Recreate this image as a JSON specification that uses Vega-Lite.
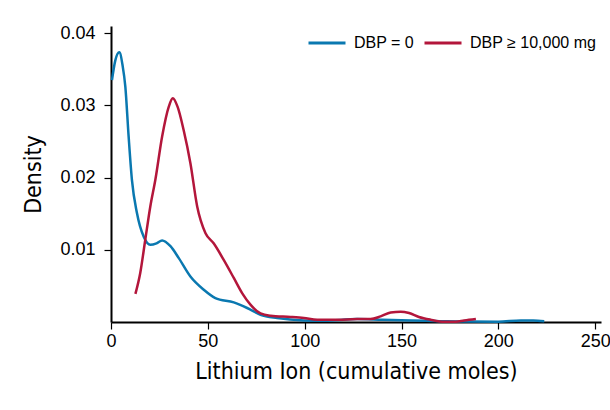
{
  "$schema": "https://vega.github.io/schema/vega-lite/v6.json",
  "width": 490,
  "height": 296,
  "autosize": "none",
  "padding": {"left": 111, "top": 26, "right": 9, "bottom": 88},
  "background": "white",
  "config": {
    "view": {"stroke": null},
    "font": "Liberation Sans"
  },
  "data": {
    "values": [
      {"x": 0.5, "y": 0.0335, "g": "DBP = 0"},
      {"x": 2.2, "y": 0.0362, "g": "DBP = 0"},
      {"x": 4.3, "y": 0.03735, "g": "DBP = 0"},
      {"x": 6.0, "y": 0.0355, "g": "DBP = 0"},
      {"x": 7.4, "y": 0.0326, "g": "DBP = 0"},
      {"x": 9.1, "y": 0.0257, "g": "DBP = 0"},
      {"x": 10.8, "y": 0.0197, "g": "DBP = 0"},
      {"x": 13.4, "y": 0.0151, "g": "DBP = 0"},
      {"x": 16.9, "y": 0.0118, "g": "DBP = 0"},
      {"x": 20.3, "y": 0.0107, "g": "DBP = 0"},
      {"x": 23.5, "y": 0.0109, "g": "DBP = 0"},
      {"x": 26.4, "y": 0.0113, "g": "DBP = 0"},
      {"x": 30.7, "y": 0.0105, "g": "DBP = 0"},
      {"x": 35.0, "y": 0.00885, "g": "DBP = 0"},
      {"x": 41.0, "y": 0.0063, "g": "DBP = 0"},
      {"x": 47.9, "y": 0.00447, "g": "DBP = 0"},
      {"x": 53.9, "y": 0.00332, "g": "DBP = 0"},
      {"x": 63.4, "y": 0.00271, "g": "DBP = 0"},
      {"x": 70.3, "y": 0.00194, "g": "DBP = 0"},
      {"x": 77.2, "y": 0.00101, "g": "DBP = 0"},
      {"x": 85.8, "y": 0.00055, "g": "DBP = 0"},
      {"x": 99.6, "y": 0.00022, "g": "DBP = 0"},
      {"x": 110, "y": 0.00018, "g": "DBP = 0"},
      {"x": 127, "y": 0.0004, "g": "DBP = 0"},
      {"x": 140, "y": 0.0003, "g": "DBP = 0"},
      {"x": 155, "y": 0.0002, "g": "DBP = 0"},
      {"x": 170, "y": 0.00012, "g": "DBP = 0"},
      {"x": 185, "y": 0.00006, "g": "DBP = 0"},
      {"x": 200, "y": 0.00005, "g": "DBP = 0"},
      {"x": 211.6, "y": 0.00022, "g": "DBP = 0"},
      {"x": 218, "y": 0.0002, "g": "DBP = 0"},
      {"x": 223.7, "y": 0.0001, "g": "DBP = 0"},
      {"x": 12.6, "y": 0.0039, "g": "DBP ≥ 10,000 mg"},
      {"x": 15.1, "y": 0.0068, "g": "DBP ≥ 10,000 mg"},
      {"x": 17.7, "y": 0.0114, "g": "DBP ≥ 10,000 mg"},
      {"x": 20.3, "y": 0.016, "g": "DBP ≥ 10,000 mg"},
      {"x": 22.9, "y": 0.0197, "g": "DBP ≥ 10,000 mg"},
      {"x": 26.4, "y": 0.0257, "g": "DBP ≥ 10,000 mg"},
      {"x": 29.8, "y": 0.0298, "g": "DBP ≥ 10,000 mg"},
      {"x": 31.9, "y": 0.031, "g": "DBP ≥ 10,000 mg"},
      {"x": 34.4, "y": 0.0298, "g": "DBP ≥ 10,000 mg"},
      {"x": 37.5, "y": 0.0266, "g": "DBP ≥ 10,000 mg"},
      {"x": 41.0, "y": 0.022, "g": "DBP ≥ 10,000 mg"},
      {"x": 44.5, "y": 0.016, "g": "DBP ≥ 10,000 mg"},
      {"x": 48.8, "y": 0.0123, "g": "DBP ≥ 10,000 mg"},
      {"x": 53.0, "y": 0.0109, "g": "DBP ≥ 10,000 mg"},
      {"x": 58.2, "y": 0.0086, "g": "DBP ≥ 10,000 mg"},
      {"x": 63.4, "y": 0.0061, "g": "DBP ≥ 10,000 mg"},
      {"x": 67.7, "y": 0.004, "g": "DBP ≥ 10,000 mg"},
      {"x": 72.0, "y": 0.0024, "g": "DBP ≥ 10,000 mg"},
      {"x": 77.2, "y": 0.00118, "g": "DBP ≥ 10,000 mg"},
      {"x": 82.4, "y": 0.00087, "g": "DBP ≥ 10,000 mg"},
      {"x": 92.7, "y": 0.0007, "g": "DBP ≥ 10,000 mg"},
      {"x": 99.6, "y": 0.00055, "g": "DBP ≥ 10,000 mg"},
      {"x": 106.5, "y": 0.00032, "g": "DBP ≥ 10,000 mg"},
      {"x": 116.9, "y": 0.00032, "g": "DBP ≥ 10,000 mg"},
      {"x": 127.2, "y": 0.0004, "g": "DBP ≥ 10,000 mg"},
      {"x": 134.0, "y": 0.0004, "g": "DBP ≥ 10,000 mg"},
      {"x": 139.2, "y": 0.00078, "g": "DBP ≥ 10,000 mg"},
      {"x": 144.4, "y": 0.00133, "g": "DBP ≥ 10,000 mg"},
      {"x": 149.6, "y": 0.00143, "g": "DBP ≥ 10,000 mg"},
      {"x": 153.9, "y": 0.00124, "g": "DBP ≥ 10,000 mg"},
      {"x": 159.0, "y": 0.0007, "g": "DBP ≥ 10,000 mg"},
      {"x": 165.0, "y": 0.00032, "g": "DBP ≥ 10,000 mg"},
      {"x": 172.0, "y": 0.00004, "g": "DBP ≥ 10,000 mg"},
      {"x": 178.0, "y": 0.00004, "g": "DBP ≥ 10,000 mg"},
      {"x": 182.3, "y": 0.0002, "g": "DBP ≥ 10,000 mg"},
      {"x": 188.4, "y": 0.0004, "g": "DBP ≥ 10,000 mg"}
    ]
  },
  "mark": {"type": "line", "interpolate": "monotone", "strokeWidth": 2.5, "clip": false},
  "encoding": {
    "x": {
      "field": "x",
      "type": "quantitative",
      "scale": {"domain": [0, 253], "nice": false, "zero": false},
      "axis": {
        "title": "Lithium Ion (cumulative moles)",
        "values": [0, 50, 100, 150, 200, 250],
        "grid": false,
        "domainColor": "black",
        "domainWidth": 2,
        "tickColor": "black",
        "tickSize": 7,
        "tickWidth": 1.2,
        "labelFontSize": 18,
        "labelColor": "black",
        "labelPadding": 3,
        "labelFlush": false,
        "titleFont": "Liberation Sans Narrow, DejaVu Sans Condensed, Roboto Condensed, sans-serif",
        "titleFontSize": 23,
        "titleFontWeight": "normal",
        "titleColor": "black",
        "titlePadding": 10
      }
    },
    "y": {
      "field": "y",
      "type": "quantitative",
      "scale": {"domain": [0, 0.041], "nice": false},
      "axis": {
        "title": "Density",
        "values": [0.01, 0.02, 0.03, 0.04],
        "format": ".2f",
        "grid": false,
        "domainColor": "black",
        "domainWidth": 2,
        "tickColor": "black",
        "tickSize": 7,
        "tickWidth": 1.2,
        "labelFontSize": 18,
        "labelColor": "black",
        "labelPadding": 9,
        "titleFont": "Liberation Sans Narrow, DejaVu Sans Condensed, Roboto Condensed, sans-serif",
        "titleFontSize": 23,
        "titleFontWeight": "normal",
        "titleColor": "black",
        "titlePadding": 14
      }
    },
    "color": {
      "field": "g",
      "type": "nominal",
      "scale": {"domain": ["DBP = 0", "DBP ≥ 10,000 mg"], "range": ["#0a78b0", "#b3163b"]},
      "legend": {
        "title": null,
        "orient": "none",
        "legendX": 196,
        "legendY": -3,
        "direction": "horizontal",
        "symbolType": "stroke",
        "symbolSize": 1369,
        "symbolStrokeWidth": 3,
        "labelFontSize": 16,
        "labelColor": "black",
        "labelOffset": 7,
        "columnPadding": 3,
        "padding": 0
      }
    }
  }
}
